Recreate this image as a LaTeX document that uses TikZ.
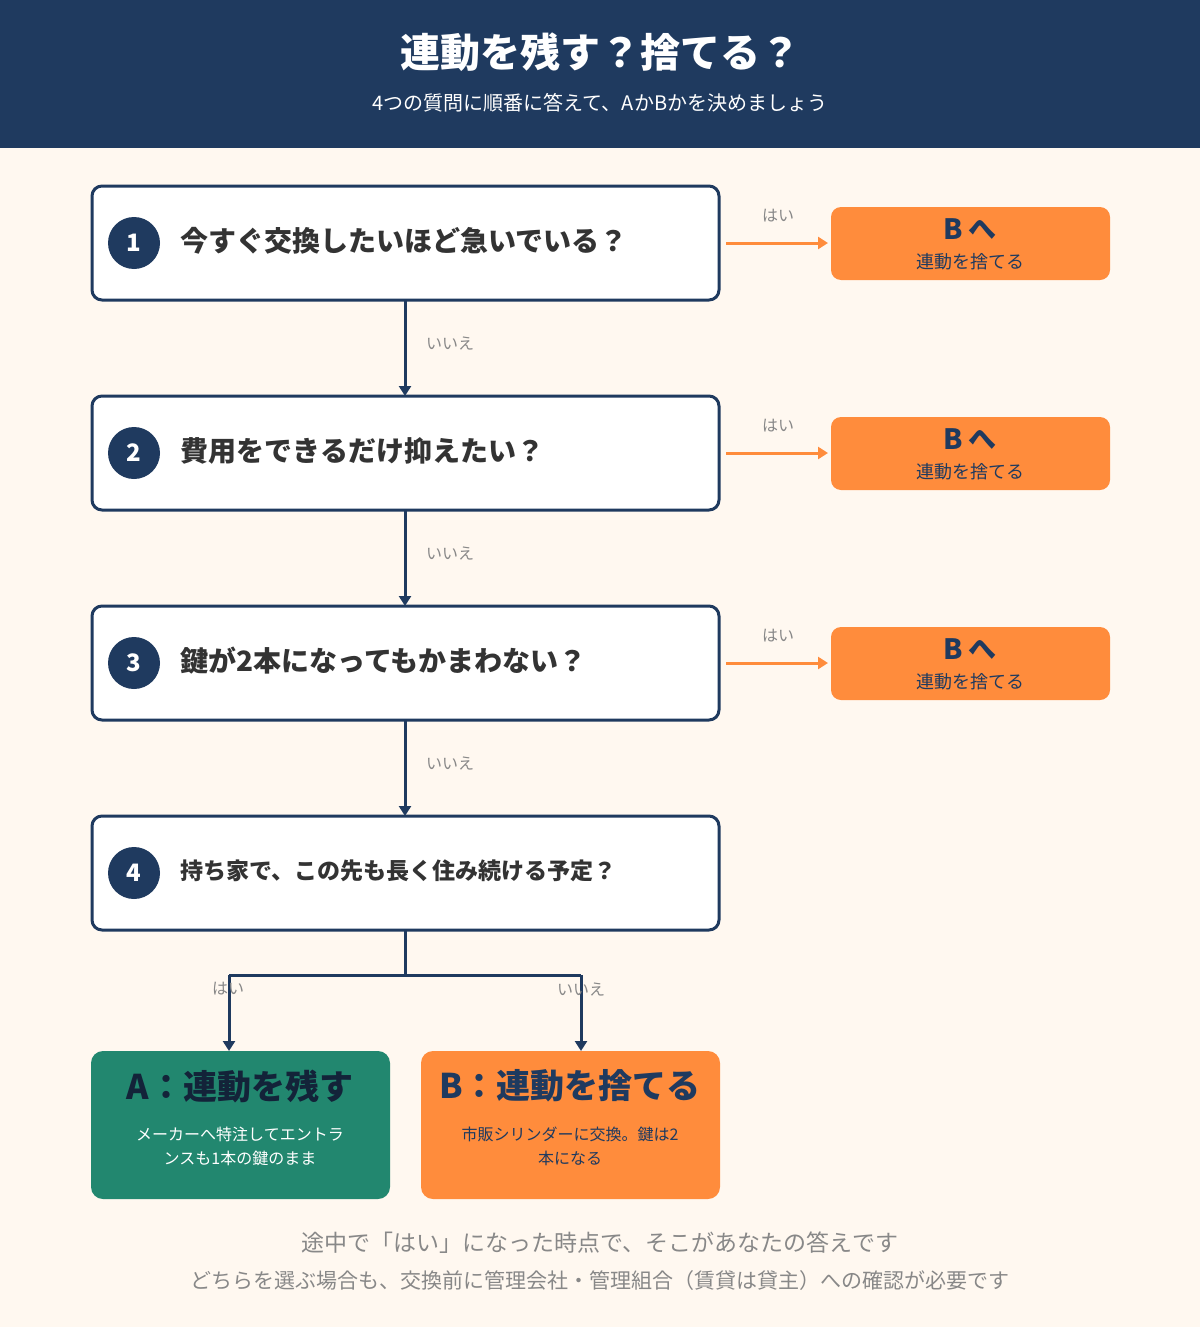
\documentclass[tikz,border=0pt]{standalone}
\usepackage{fontspec}
\setmainfont{Noto Sans CJK JP}
\usetikzlibrary{arrows.meta}
\definecolor{navy}{HTML}{1F3A5F}
\definecolor{cream}{HTML}{FFF8F0}
\definecolor{orng}{HTML}{FF8C3C}
\definecolor{grn}{HTML}{22876F}
\definecolor{txt}{HTML}{333333}
\definecolor{gry}{HTML}{888888}
\begin{document}
\begin{tikzpicture}[x=1pt,y=-1pt,
 q/.style={draw=navy,line width=3pt,fill=white,rounded corners=10pt},
 num/.style={circle,fill=navy,minimum size=52pt,inner sep=0pt,text=white,font=\fontsize{24}{24}\selectfont\bfseries},
 qt/.style={anchor=west,text=txt,font=\fontsize{28}{28}\selectfont\bfseries},
 bb/.style={fill=orng,rounded corners=10pt},
 arr/.style={line width=3pt,-{Triangle[length=10pt,width=12pt]}},
 lab/.style={text=gry,font=\fontsize{16}{16}\selectfont}]
\useasboundingbox (0,0) rectangle (1200,1327);
\fill[cream] (0,0) rectangle (1200,1327);
\fill[navy] (0,0) rectangle (1200,148);
\node[text=white,font=\fontsize{40}{40}\selectfont\bfseries] (title) at (600,52) {連動を残す？捨てる？};
\node[text=white,font=\fontsize{20}{20}\selectfont] (sub) at (600,103) {4つの質問に順番に答えて、AかBかを決めましょう};
\foreach \i/\y/\t in {1/186/今すぐ交換したいほど急いでいる？,2/396/費用をできるだけ抑えたい？,3/606/鍵が2本になってもかまわない？}{
 \draw[q] (92,\y) rectangle (719,\y+114);
 \node[num] (n\i) at (134,\y+57) {\i};
 \node[qt] (t\i) at (177,\y+55) {\t};
 \fill[bb] (831,\y+21) rectangle (1110,\y+94);
 \node[text=navy,font=\fontsize{28}{28}\selectfont\bfseries] (bh\i) at (970,\y+43) {B へ};
 \node[text=navy,font=\fontsize{18}{18}\selectfont] (bs\i) at (970,\y+76) {連動を捨てる};
 \coordinate (s\i) at (726,\y+57); \coordinate (e\i) at (828,\y+57);
 \draw[arr,orng] (s\i) -- (e\i);
 \node[lab] (h\i) at (778,\y+30) {はい};
 \coordinate (d\i) at (405,\y+114); \coordinate (f\i) at (405,\y+210);
 \draw[arr,navy] (d\i) -- (f\i);
 \node[lab] (l\i) at (450,\y+158) {いいえ};
}
\draw[q] (92,816) rectangle (719,930);
\node[num] (n4) at (134,873) {4};
\node[qt,font=\fontsize{23}{23}\selectfont\bfseries] (t4) at (177,871) {持ち家で、この先も長く住み続ける予定？};
\fill[grn,rounded corners=12pt] (91,1051) rectangle (390,1199);
\fill[orng,rounded corners=12pt] (421,1051) rectangle (720,1199);
\node[text=navy!60!black,font=\fontsize{34}{34}\selectfont\bfseries] (at) at (240,1086) {A：連動を残す};
\node[text=white,align=center,font=\fontsize{16}{24}\selectfont] (ad) at (240,1146) {メーカーへ特注してエントラ\\ンスも1本の鍵のまま};
\node[text=navy,font=\fontsize{34}{34}\selectfont\bfseries] (bt) at (570,1086) {B：連動を捨てる};
\node[text=navy,align=center,font=\fontsize{16}{24}\selectfont] (bd) at (570,1146) {市販シリンダーに交換。鍵は2\\本になる};
\coordinate (c0) at (405,930); \coordinate (c1) at (405,975);
\coordinate (cl) at (229,975); \coordinate (cr) at (581,975);
\coordinate (al) at (229,1051); \coordinate (ar) at (581,1051);
\draw[navy,line width=3pt] (c0) -- (c1) (cl) -- (cr);
\draw[arr,navy] (cl) -- (al);
\draw[arr,navy] (cr) -- (ar);
\node[lab] (hl) at (228,989) {はい};
\node[lab] (ir) at (581,990) {いいえ};
\node[text=gry,font=\fontsize{23}{23}\selectfont] (f1) at (600,1243) {途中で「はい」になった時点で、そこがあなたの答えです};
\node[text=gry,font=\fontsize{21}{21}\selectfont] (f2) at (600,1281) {どちらを選ぶ場合も、交換前に管理会社・管理組合（賃貸は貸主）への確認が必要です};
\end{tikzpicture}
\end{document}
